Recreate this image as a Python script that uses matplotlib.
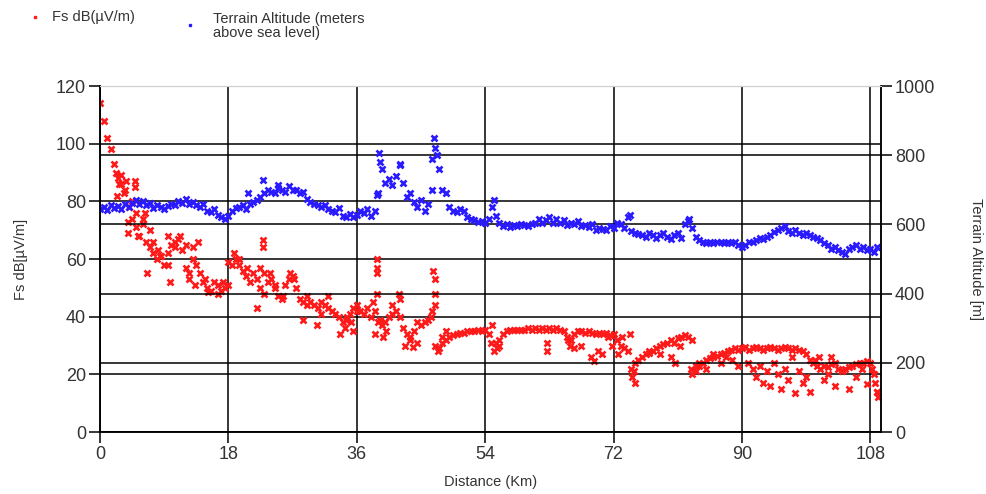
import numpy as np
import matplotlib
matplotlib.use("Agg")
import matplotlib.pyplot as plt
from matplotlib.lines import Line2D

plt.rcParams["font.family"] = ["Liberation Sans", "DejaVu Sans"]

# distance samples every 0.5 km, 0 .. 109 km
distance_km = np.arange(0, 109.5, 0.5)

# terrain altitude (m) at each 0.5 km
altitude_m = [
    645, 650, 642, 655, 648, 652, 645, 658, 650, 662,
    670, 660, 668, 655, 662, 648, 655, 650, 645, 652,
    660, 655, 668, 662, 672, 660, 665, 655, 650, 658,
    640, 635, 645, 628, 620, 615, 625, 640, 648, 650,
    655, 645, 660, 665, 670, 680, 690, 700, 695, 690,
    705, 700, 695, 710, 700, 698, 690, 695, 672, 665,
    660, 655, 650, 655, 645, 640, 635, 648, 625, 620,
    630, 622, 628, 640, 632, 645, 625, 640, 690, 760,
    720, 730, 715, 740, 775, 720, 680, 690, 665, 650,
    670, 640, 660, 700, 820, 760, 700, 690, 650, 640,
    635, 645, 640, 620, 615, 612, 608, 610, 605, 615,
    650, 625, 605, 595, 600, 592, 598, 595, 600, 598,
    595, 600, 605, 615, 605, 612, 620, 605, 615, 605,
    612, 598, 605, 600, 610, 595, 598, 592, 600, 585,
    590, 588, 585, 595, 590, 605, 600, 590, 620, 580,
    575, 572, 570, 565, 575, 570, 560, 570, 575, 565,
    558, 570, 575, 560, 600, 610, 590, 565, 555, 548,
    545, 550, 545, 548, 550, 545, 548, 545, 550, 540,
    535, 540, 550, 548, 555, 560, 558, 565, 570, 578,
    585, 590, 595, 580, 575, 585, 575, 570, 575, 570,
    565, 560, 555, 545, 540, 530, 535, 525, 520, 515,
    530, 535, 540, 530, 535, 525, 530, 520, 535,
]

# extra isolated altitude points
alt_extra_km = [20.8, 22.9, 25.0, 38.8, 39.1, 39.3, 42.0, 46.6, 46.8, 47.2, 55.2, 74.3, 82.6]
alt_extra_m = [690, 728, 714, 685, 806, 780, 771, 790, 850, 800, 670, 627, 615]

# field strength (dB uV/m), main band at each 0.5 km
field_db = [
    114, 108, 102, 98, 93, 88, 86, 84, 78, 74,
    71, 68, 72, 66, 64, 62, 60, 61, 58, 62,
    65, 66, 67, 63, 57, 55, 60, 58, 55, 52,
    50, 49, 52, 51, 49, 50, 51, 58, 60, 58,
    56, 54, 52, 55, 53, 50, 48, 52, 53, 50,
    47, 46, 51, 53, 54, 50, 46, 45, 44, 45,
    44, 43, 45, 44, 43, 42, 41, 40, 38, 39,
    41, 43, 44, 42, 41, 43, 40, 42, 38, 37,
    38, 40, 41, 42, 40, 36, 34, 32, 35, 38,
    37, 38, 39, 42, 30, 29, 31, 32, 33, 33.5,
    34, 34.5, 34.5, 35, 35, 35, 35.5, 35, 35.5, 34,
    37, 31, 32, 34, 35, 35.5, 35.5, 35.5, 35.5, 35.5,
    36, 35.5, 36, 35.5, 36, 35.5, 36, 35.5, 36, 35.5,
    35, 33, 32, 34, 35, 35, 34.5, 35, 34.5, 34,
    34.5, 34, 34.5, 33.5, 34, 32, 30, 29, 28, 22,
    24, 25, 26, 27, 27.5, 28, 29, 30, 30.5, 31,
    32, 31, 32.5, 33, 33.5, 33, 32, 23, 23, 24,
    25, 25.5, 26, 26.5, 27, 27.5, 28, 28.5, 29, 28.5,
    29, 29.5, 28.5, 29, 29.5, 29, 28.5, 29, 29.5, 29,
    28.5, 29, 29.5, 29, 28.5, 29, 28.5, 28, 27, 25,
    24, 23, 22, 23, 22.5, 23.5, 24, 22, 21.5, 22,
    22.5, 23, 23.5, 24, 24, 24.5, 24, 20, 14,
]

# scattered field strength points off the main band
field_extra_km = [
    2.2, 2.6, 3.0, 3.3, 3.6, 2.4, 4.9, 4.9, 3.9, 3.9, 5.3, 6.0, 6.3, 4.5, 5.0,
    6.6, 7.0, 7.5, 8.4, 8.2, 9.5, 9.6, 9.8, 10.5, 11.2, 12.0, 13.0, 13.7, 12.5, 13.3,
    14.7, 15.2, 16.5, 17.2, 18.0,
    18.8, 19.5, 20.6, 22.9, 22.9, 22.0, 22.5, 23.0, 23.8, 24.5, 25.7, 26.6, 27.2,
    28.5, 30.4, 29.0, 31.0, 32.0, 33.7, 34.3, 34.6, 36.0, 35.2, 35.5,
    38.8, 38.9, 38.8, 38.8, 38.3, 38.5, 39.3, 39.7, 40.1, 41.0, 41.9, 42.0, 42.8,
    43.4, 43.9, 44.4, 46.4, 46.7, 46.9, 47.0, 47.0, 47.4, 48.0, 48.5,
    54.8, 55.2, 55.6, 56.0, 62.7, 62.7, 65.6, 65.9, 66.5, 67.5, 68.9, 69.3, 69.8,
    70.4, 71.2, 71.8, 72.6, 73.2, 74.3, 74.6, 74.8, 75.0,
    77.0, 78.5, 80.0, 80.6, 81.3, 82.8, 83.0, 83.5, 84.0, 85.0, 86.0, 87.0, 87.8,
    88.6, 89.5,
    90.8, 91.5, 92.0, 92.5, 93.0, 93.5, 94.0, 94.5, 95.0, 95.5, 96.0, 96.5, 97.0,
    97.5, 98.0, 98.5, 99.0, 99.6, 100.2, 100.8, 101.5, 102.0, 103.0, 104.0, 105.0,
    106.0, 106.8, 107.5, 108.3, 108.6, 108.9, 109.1, 102.5,
]
field_extra_db = [
    90, 86, 89, 83, 87, 82, 87, 85, 73, 69, 68, 74, 76, 80, 76,
    55, 70, 66, 61, 63, 68, 58, 52, 64, 68, 65, 64, 66, 53, 51,
    53, 48.5, 48, 52, 59,
    62, 60, 57, 66.5, 64, 43, 57, 55, 55, 51, 47, 55, 53,
    39, 37, 47, 41, 47, 34, 36, 40, 42, 38, 35,
    60, 57, 55, 48, 45, 34, 39, 33, 35, 44, 48, 46, 30,
    33, 29.5, 31, 40, 56, 53, 48, 44, 28, 33, 35,
    31, 28, 29, 30, 31, 28, 32, 30, 29, 30, 26, 24.5, 28,
    27, 33, 30, 27, 33, 34, 19, 21, 17,
    28, 27, 26, 24, 30, 22, 20, 21, 24, 22, 27, 24, 26,
    25, 23,
    24, 22, 19, 23, 17, 21, 16, 24, 20, 15, 22, 18, 26,
    13.5, 21, 17, 19, 14, 25, 26, 18, 20, 16, 21, 15,
    19, 22, 16.5, 22, 17, 14, 12, 26,
]

x_ticks = [0, 18, 36, 54, 72, 90, 108]
left_ticks = [0, 20, 40, 60, 80, 100, 120]
right_ticks = [0, 200, 400, 600, 800, 1000]

red = "#ff1a1a"
blue = "#2a1aff"
tick_color = "#333333"

fig = plt.figure(figsize=(9.86, 4.94), dpi=100)
ax = fig.add_axes([100 / 986, 62 / 494, 781 / 986, 346 / 494])
ax2 = ax.twinx()

mk = dict(linestyle="none", marker="x", markersize=4.6, markeredgewidth=1.9)
ax.plot(distance_km, field_db, color=red, **mk)
ax.plot(field_extra_km, field_extra_db, color=red, **mk)
ax2.plot(distance_km, altitude_m, color=blue, **mk)
ax2.plot(alt_extra_km, alt_extra_m, color=blue, **mk)

ax.set_xlim(0, 109.5)
ax.set_ylim(0, 120)
ax2.set_ylim(0, 1000)
ax.set_xticks(x_ticks)
ax.set_yticks(left_ticks)
ax2.set_yticks(right_ticks)

ax.grid(True, color="black", linewidth=1.1)
ax2.grid(True, axis="y", color="black", linewidth=1.1)

for a in (ax, ax2):
    a.tick_params(length=8, width=1.1, color="black", labelsize=13,
                  labelcolor=tick_color, pad=2)
    a.spines["top"].set_color("#d0d0d0")
    for s in ("left", "right", "bottom"):
        a.spines[s].set_color("black")
        a.spines[s].set_linewidth(1.1)

ax.set_xlabel("Distance (Km)", fontsize=10.5, color=tick_color)
ax.xaxis.set_label_coords(0.5, -0.125)
ax.set_ylabel("Fs dB[µV/m]", fontsize=10.5, color=tick_color)
ax.yaxis.set_label_coords(-0.092, 0.5)
ax2.set_ylabel("Terrain Altitude [m]", fontsize=10.5, color=tick_color,
               rotation=270, va="center")
ax2.yaxis.set_label_coords(1.122, 0.5)

# legend at the top left
fig.add_artist(Line2D([35 / 986], [1 - 17 / 494], marker="s", markersize=2,
                      color=red, linestyle="none", transform=fig.transFigure))
fig.text(52 / 986, 1 - 17 / 494, "Fs dB(µV/m)", fontsize=10.5,
         color=tick_color, va="center", ha="left")
fig.add_artist(Line2D([190 / 986], [1 - 25 / 494], marker="s", markersize=2,
                      color=blue, linestyle="none", transform=fig.transFigure))
fig.text(213 / 986, 1 - 26 / 494, "Terrain Altitude (meters\nabove sea level)",
         fontsize=10.5, color=tick_color, va="center", ha="left", linespacing=0.95)

fig.savefig("out.png", dpi=100)
